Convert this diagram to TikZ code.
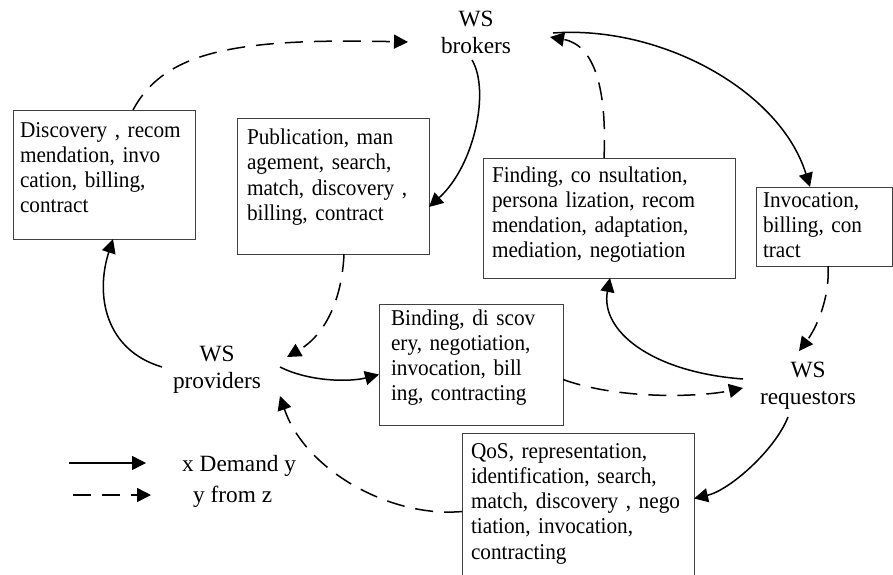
\documentclass[tikz,border=0pt]{standalone}
\usepackage{fontspec}
\setmainfont{Liberation Serif}
\newfontfamily\boxFamily{Liberation Serif}[FakeStretch=0.94]
\usetikzlibrary{arrows.meta}
\newcommand{\boxFont}{\boxFamily\fontsize{22.6}{25.3}\selectfont}
\newcommand{\actorFont}{\fontsize{23.3}{27}\selectfont}

\begin{document}
\begin{tikzpicture}[x=1pt,y=-1pt,
  taskbox/.style={draw=black!75, line width=1pt, anchor=base west, inner ysep=0pt, outer sep=0pt, align=left, font=\boxFont},
  actor/.style={anchor=base, inner sep=0pt, align=center, font=\actorFont},
  demand/.style={line width=1.5pt, -{Triangle[length=14pt,width=14pt]}},
  supply/.style={demand, dash pattern=on 18pt off 11pt}]
\path[use as bounding box] (0,0) rectangle (893,574);
\clip (0,0) rectangle (893,574);
% actors (base = last line)
\node[actor] (broker) at (476,53) {WS\\brokers};
\node[actor] (provider) at (217,388) {WS\\providers};
\node[actor] (requestor) at (808,404) {WS\\requestors};
% activity boxes
\node[taskbox, text width=168pt, inner xsep=7pt, text height=27pt, text depth=102pt] (discoverybox) at (13,137) {Discovery , recom\\mendation, invo\\cation, billing,\\contract};
\node[taskbox, text width=172pt, inner xsep=10pt, text height=26.5pt, text depth=109.5pt] (publicationbox) at (237,144.5) {Publication, man\\agement, search,\\match, discovery ,\\billing, contract};
\node[taskbox, text width=234pt, inner xsep=9pt, text height=24pt, text depth=96pt] (findingbox) at (483,182) {Finding, co nsultation,\\persona lization, recom\\mendation, adaptation,\\mediation, negotiation};
\node[taskbox, text width=122pt, inner xsep=7pt, text height=20pt, text depth=59pt] (invocationbox) at (756,207) {Invocation,\\billing, con\\tract};
\node[taskbox, text width=160pt, inner xsep=12pt, text height=21pt, text depth=100pt] (bindingbox) at (379,325) {Binding, di scov\\ery, negotiation,\\invocation, bill\\ing, contracting};
\node[taskbox, text width=214pt, inner xsep=9pt, text height=25pt, text depth=132pt] (qosbox) at (462,458) {QoS, representation,\\identification, search,\\match, discovery , nego\\tiation, invocation,\\contracting};
% connectors
\draw[supply] ([shift={(29,0)}]discoverybox.north) .. controls (165,50) and (240,38) .. ([shift={(-68,-11)}]broker.base);
\draw[demand] ([shift={(-4,7)}]broker.base) .. controls (490,90) and (475,165) .. ([shift={(0,21)}]publicationbox.east);
\draw[supply] ([shift={(-5,0)}]findingbox.north) .. controls (607,90) and (595,45) .. ([shift={(74,-16)}]broker.base);
\draw[demand] ([shift={(77,-20)}]broker.base) .. controls (660,25) and (780,90) .. ([shift={(-14,0)}]invocationbox.north);
\draw[supply] ([shift={(11,0)}]publicationbox.south) .. controls (342,300) and (325,335) .. ([shift={(70,-31)}]provider.base);
\draw[demand] ([shift={(-55,-21)}]provider.base) .. controls (105,350) and (95,295) .. ([shift={(9,0)}]discoverybox.south);
\draw[demand] ([shift={(63,-21)}]provider.base) .. controls (310,382) and (350,382) .. ([shift={(0,10)}]bindingbox.west);
\draw[supply] (qosbox.west) .. controls (390,518) and (305,470) .. ([shift={(63,8)}]provider.base);
\draw[supply] ([shift={(0,15)}]bindingbox.east) .. controls (620,400) and (700,397) .. ([shift={(-65,-16)}]requestor.base);
\draw[demand] ([shift={(-65,-25)}]requestor.base) .. controls (650,372) and (600,330) .. ([shift={(1,0)}]findingbox.south);
\draw[supply] ([shift={(4,0)}]invocationbox.south) .. controls (830,300) and (815,330) .. ([shift={(-9,-53)}]requestor.base);
\draw[demand] ([shift={(-20,13)}]requestor.base) .. controls (775,450) and (730,490) .. ([shift={(0,-13)}]qosbox.east);
% legend
\node[actor, anchor=base west] (demandkey) at (182,471) {x Demand y};
\node[actor, anchor=base west] (fromkey) at (193,502) {y from z};
\coordinate (demandtail) at (69,463);
\coordinate (demandtip) at (146,463);
\coordinate (fromtail) at (73,495);
\coordinate (fromtip) at (151,495);
\draw[demand] (demandtail) -- (demandtip);
\draw[supply] (fromtail) -- (fromtip);
\end{tikzpicture}
\end{document}
